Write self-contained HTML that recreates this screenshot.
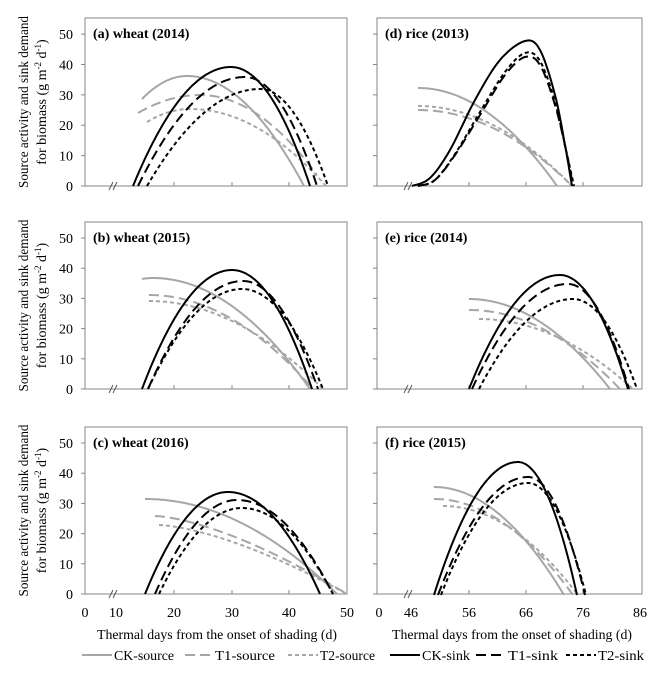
<!DOCTYPE html>
<html><head><meta charset="utf-8"><style>
body{margin:0;background:#fff}
svg{display:block;font-family:"Liberation Serif",serif}
</style></head><body>
<svg id="s" width="669" height="677" viewBox="0 0 669 677" xmlns="http://www.w3.org/2000/svg"></svg>
<script>
const S=document.getElementById('s');let h='';
const GR='#a6a6a6';
const panels=[
 {L:85,R:347,T:18,B:186,lab:'(a) wheat (2014)',left:true},
 {L:85,R:347,T:222,B:389,lab:'(b) wheat (2015)',left:true},
 {L:85,R:347,T:427,B:594,lab:'(c) wheat (2016)',left:true},
 {L:377,R:642,T:18,B:186,lab:'(d) rice (2013)',left:false},
 {L:377,R:642,T:222,B:389,lab:'(e) rice (2014)',left:false},
 {L:377,R:642,T:427,B:594,lab:'(f) rice (2015)',left:false}];
panels.forEach((p,i)=>{
 h+=`<rect x="${p.L}" y="${p.T}" width="${p.R-p.L}" height="${p.B-p.T}" fill="none" stroke="#868686" stroke-width="1"/>`;
 const u=(p.B-p.T)/55.3;
 for(let v=0;v<=50;v+=10){const y=p.B-v*u;
  h+=`<line x1="${p.L-4}" x2="${p.L}" y1="${y}" y2="${y}" stroke="#868686"/>`;
  if(p.left)h+=`<text x="73" y="${y+5}" font-size="14" text-anchor="end">${v}</text>`;}
 const ticks=p.left?[174,232,289]:[469,526,583];
 ticks.forEach(x=>h+=`<line x1="${x}" x2="${x}" y1="${p.B}" y2="${p.B-4}" stroke="#868686"/>`);
 const bx=p.left?113:408;
 h+=`<line x1="${bx-4}" y1="${p.B+4}" x2="${bx}" y2="${p.B-4}" stroke="#555"/><line x1="${bx}" y1="${p.B+4}" x2="${bx+4}" y2="${p.B-4}" stroke="#555"/>`;
 h+=`<text x="${p.L+8}" y="${p.T+20}" font-size="14" font-weight="bold">${p.lab}</text>`;
 if(p.left){const cy=(p.T+p.B)/2;
  h+=`<text transform="translate(28,${cy}) rotate(-90)" font-size="14" text-anchor="middle" textLength="172" lengthAdjust="spacingAndGlyphs">Source activity and sink demand</text>`;
  h+=`<text transform="translate(46,${cy}) rotate(-90)" font-size="14" text-anchor="middle">for biomass (g m<tspan font-size="9" dy="-5">-2</tspan><tspan dy="5"> d</tspan><tspan font-size="9" dy="-5">-1</tspan><tspan dy="5">)</tspan></text>`;}
});
[[85,'0'],[116,'10'],[174,'20'],[232,'30'],[289,'40'],[347,'50'],[379,'0'],[411,'46'],[469,'56'],[526,'66'],[583,'76'],[640,'86']].forEach(a=>h+=`<text x="${a[0]}" y="617" font-size="14" text-anchor="middle">${a[1]}</text>`);
h+=`<text x="97" y="639" font-size="14" textLength="240" lengthAdjust="spacingAndGlyphs">Thermal days from the onset of shading (d)</text>`;
h+=`<text x="392" y="639" font-size="14" textLength="240" lengthAdjust="spacingAndGlyphs">Thermal days from the onset of shading (d)</text>`;
const styles={cs:[GR,''],t1s:[GR,'10,5'],t2s:[GR,'4,3'],ck:['#000',''],t1:['#000','10,5'],t2:['#000','4,3']};
function path(pts,st){const [c,d]=styles[st];
 return `<polyline points="${pts.map(p=>p[0].toFixed(1)+','+p[1].toFixed(1)).join(' ')}" fill="none" stroke="${c}" stroke-width="2" ${d?`stroke-dasharray="${d}"`:''}/>`;}
function sink(x0,xp,yp,xe,y0){const pts=[];for(let x=x0;x<=xe+0.01;x+=1){let t=x<xp?(x-xp)/(x0-xp):(x-xp)/(xe-xp);pts.push([x,y0-(y0-yp)*(1-t*t)]);}return pts;}
function src(xs,ys,xp,yp,xe,ye,pw){pw=pw||2;const pts=[];for(let x=xs;x<=xe+0.01;x+=1){let y;if(x<xp){let t=(x-xp)/(xs-xp);y=yp+(ys-yp)*t*t;}else{let t=(x-xp)/(xe-xp);y=yp+(ye-yp)*Math.pow(t,pw);}pts.push([x,y]);}return pts;}
function spl(P){const out=[];for(let i=0;i<P.length-1;i++){const p0=P[Math.max(0,i-1)],p1=P[i],p2=P[i+1],p3=P[Math.min(P.length-1,i+2)];for(let k=0;k<10;k++){const t=k/10,t2=t*t,t3=t2*t;out.push([0,1].map(j=>0.5*((2*p1[j])+(-p0[j]+p2[j])*t+(2*p0[j]-5*p1[j]+4*p2[j]-p3[j])*t2+(-p0[j]+3*p1[j]-3*p2[j]+p3[j])*t3)));}}out.push(P[P.length-1]);return out;}
h+=path(src(142,99,187,76,304,186),'cs');
h+=path(src(138,113,200,95,317,175),'t1s');
h+=path(src(147,122,190,109,326,186),'t2s');
h+=path(sink(133,231,67,310,186),'ck');
h+=path(sink(138,245,77,317,186),'t1');
h+=path(sink(147,260,89,328,186),'t2');
h+=path(src(142,279,153,278,310,389),'cs');
h+=path(src(149,295,149,295,313,389),'t1s');
h+=path(src(149,301,149,301,323,389),'t2s');
h+=path(sink(142,232,270,312,389),'ck');
h+=path(sink(148,243,281,318,389),'t1');
h+=path(sink(148,242,289,323,389),'t2');
h+=path(src(145,499,145,499,337,594),'cs');
h+=path(src(155,516,155,516,347,594,1.5),'t1s');
h+=path(src(159,525,159,525,347,594,1.5),'t2s');
h+=path(sink(145,228,492,320,594),'ck');
h+=path(sink(155,237,500,333,594),'t1');
h+=path(sink(159,242,508,333,594),'t2');
h+=path(src(418,88,418,88,557,186),'cs');
h+=path(src(418,110,418,110,569,183),'t1s');
h+=path(src(418,106,418,106,572,186),'t2s');
h+=path(spl([[412,186],[430,178],[450,150],[475,100],[500,60],[525,41],[540,50],[555,95],[565,145],[572,186]]),'ck');
h+=path(spl([[418,186],[435,180],[455,155],[480,115],[505,75],[525,57],[540,65],[555,105],[566,150],[573,186]]),'t1');
h+=path(spl([[418,186],[435,180],[455,154],[480,112],[505,72],[525,53],[540,61],[555,102],[566,150],[574,186]]),'t2');
h+=path(src(469,299,469,299,610,389),'cs');
h+=path(src(469,310,469,310,620,389),'t1s');
h+=path(src(479,319,479,319,633,389),'t2s');
h+=path(sink(469,560,275,628,389),'ck');
h+=path(sink(472,568,284,629,389),'t1');
h+=path(sink(479,573,299,637,389),'t2');
h+=path(src(434,487,434,487,564,595),'cs');
h+=path(src(434,499,434,499,573,595),'t1s');
h+=path(src(443,506,443,506,578,595),'t2s');
h+=path(sink(434,518,462,577,595),'ck');
h+=path(sink(438,528,477,585,595),'t1');
h+=path(sink(441,528,483,586,595),'t2');
const lg=[[82,114,60,'cs','CK-source'],[185,215,60,'t1s','T1-source'],[288,320,55,'t2s','T2-source'],[390,422,48,'ck','CK-sink'],[476,508,50,'t1','T1-sink'],[566,598,46,'t2','T2-sink']];
lg.forEach(a=>{h+=path([[a[0],655],[a[1]-2,655]],a[3]);h+=`<text x="${a[1]}" y="660" font-size="14" textLength="${a[2]}" lengthAdjust="spacingAndGlyphs">${a[4]}</text>`;});
S.innerHTML=h;
</script>
</body></html>
